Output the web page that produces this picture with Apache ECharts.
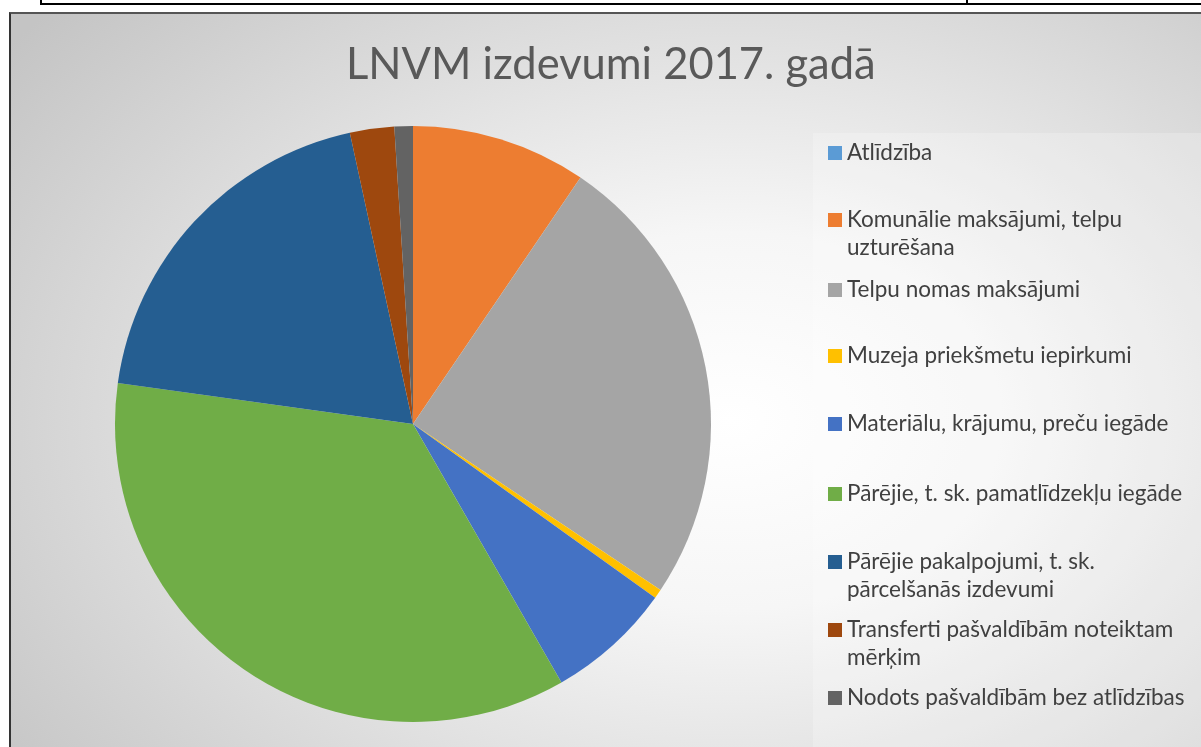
<!DOCTYPE html>
<html>
<head>
<meta charset="utf-8">
<script src="https://cdn.jsdelivr.net/npm/echarts@6/dist/echarts.min.js"></script>
<style>
html, body { margin:0; padding:0; background:#fff; }
#wrap { position:relative; width:1201px; height:747px; overflow:hidden; }
.ln { position:absolute; background:#000; }
#frame { position:absolute; left:9px; top:12px; width:1200px; height:740px;
  border-left:2px solid #333; border-top:2px solid #555;
  background: radial-gradient(ellipse 75% 85% at 60% 55%, #ffffff 0%, #f6f6f6 30%, #c4c4c4 100%); }
#legbox { position:absolute; left:813px; top:133px; width:400px; height:620px; background:rgba(255,255,255,0.22); }
#chart { position:absolute; left:0; top:0; width:1201px; height:747px; }
</style>
</head>
<body>
<div id="wrap">
  <div class="ln" style="left:40px;top:3px;width:1161px;height:2px"></div>
  <div class="ln" style="left:40px;top:0;width:2px;height:5px"></div>
  <div class="ln" style="left:966px;top:0;width:2px;height:5px"></div>
  <div id="frame"></div>
  <div id="legbox"></div>
  <div id="chart"></div>
</div>
<script>
// LNVM izdevumi 2017. gadā
var names = ['Atlīdzība', 'Komunālie maksājumi, telpu uzturēšana', 'Telpu nomas maksājumi',
  'Muzeja priekšmetu iepirkumi', 'Materiālu, krājumu, preču iegāde', 'Pārējie, t. sk. pamatlīdzekļu iegāde',
  'Pārējie pakalpojumi, t. sk. pārcelšanās izdevumi', 'Transferti pašvaldībām noteiktam mērķim',
  'Nodots pašvaldībām bez atlīdzības'];
// leģendas teksts ar rindu pārnesumiem
var labels = ['Atlīdzība', 'Komunālie maksājumi, telpu\nuzturēšana', 'Telpu nomas maksājumi',
  'Muzeja priekšmetu iepirkumi', 'Materiālu, krājumu, preču iegāde', 'Pārējie, t. sk. pamatlīdzekļu iegāde',
  'Pārējie pakalpojumi, t. sk.\npārcelšanās izdevumi', 'Transferti pašvaldībām noteiktam\nmērķim',
  'Nodots pašvaldībām bez atlīdzības'];
var values = [0, 9.5, 24.9, 0.5, 6.8, 35.5, 19.4, 2.4, 1.0];
var colors = ['#5B9BD5', '#ED7D31', '#A5A5A5', '#FFC000', '#4472C4', '#70AD47', '#255E91', '#9E480E', '#636363'];

var legendY = [153, 220, 290, 356, 424, 494, 562, 630, 698];

var myChart = echarts.init(document.getElementById('chart'));

var legends = [];
for (var i = 0; i < names.length; i++) {
  var two = labels[i].indexOf('\n') >= 0;
  // tukša rinda augšā, lai ikona sakristu ar pirmo rindu
  var txt = two ? '\n' + labels[i] : labels[i];
  legends.push({
    data: [names[i]],
    left: 828,
    top: two ? legendY[i] - 42 : legendY[i] - 14,
    padding: 0,
    itemWidth: 14,
    itemHeight: 14,
    icon: 'rect',
    selectedMode: false,
    formatter: (function (t) { return function () { return t; }; })(txt),
    textStyle: {
      fontFamily: 'Lato',
      fontSize: 22.5,
      color: '#404040',
      lineHeight: 28
    }
  });
}

var pieData = [];
for (var j = 0; j < names.length; j++) {
  pieData.push({ name: names[j], value: values[j] });
}

var option = {
  animation: false,
  color: colors,
  title: {
    text: 'LNVM izdevumi 2017. gadā',
    left: 346,
    top: 43,
    padding: 0,
    textStyle: { fontFamily: 'Lato', fontSize: 43.5, fontWeight: 'normal', color: '#595959' }
  },
  legend: legends,
  series: [{
    type: 'pie',
    center: [413, 424],
    radius: [0, 298],
    startAngle: 90,
    clockwise: true,
    label: { show: false },
    labelLine: { show: false },
    emphasis: { disabled: true },
    itemStyle: { borderWidth: 0 },
    data: pieData
  }]
};

myChart.setOption(option);
</script>
</body>
</html>
